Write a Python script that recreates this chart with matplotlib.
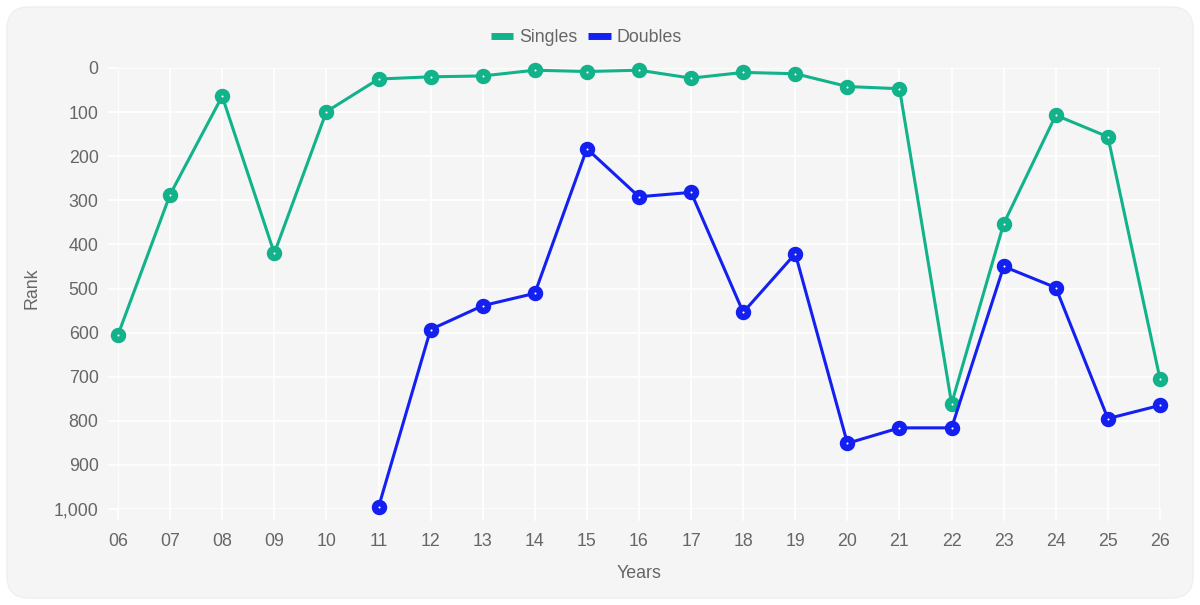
import numpy as np
import matplotlib
matplotlib.use("Agg")
from matplotlib import pyplot as plt
from matplotlib.patches import FancyBboxPatch
from matplotlib.lines import Line2D
from matplotlib.ticker import FuncFormatter

years = ['06', '07', '08', '09', '10', '11', '12', '13', '14', '15', '16',
         '17', '18', '19', '20', '21', '22', '23', '24', '25', '26']
singles = [605, 287, 64, 420, 99, 25, 20, 18, 5, 8, 5,
           23, 10, 13, 42, 47, 761, 353, 107, 156, 705]
doubles = [np.nan, np.nan, np.nan, np.nan, np.nan, 996, 593, 539, 511, 183, 292,
           282, 554, 421, 851, 816, 816, 450, 498, 795, 765]

GREEN = '#12b28b'
BLUE = '#1420f0'
GREY = '#666666'

plt.rcParams['font.family'] = ['Liberation Sans', 'DejaVu Sans']

W, H = 1200, 605
fig = plt.figure(figsize=(W / 100, H / 100), dpi=100)
fig.patch.set_facecolor('white')

# rounded grey card behind the chart (pixel coords)
card = FancyBboxPatch((7, 7), W - 14, H - 14,
                      boxstyle='round,pad=0,rounding_size=22',
                      transform=None, facecolor='#f5f5f5', edgecolor='#efefef',
                      linewidth=1, zorder=-10)
fig.patches.append(card)

left, right, top, bottom = 118, 1160, 68, 509
ax = fig.add_axes([left / W, 1 - bottom / H, (right - left) / W, (bottom - top) / H])
ax.set_facecolor('none')

x = np.arange(len(years))
for vals, col, lab in [(singles, GREEN, 'Singles'), (doubles, BLUE, 'Doubles')]:
    ax.plot(x, vals, color=col, lw=2.2, marker='o', ms=6.4,
            mfc='white', mec=col, mew=4.7, label=lab, clip_on=False, zorder=3)

ax.set_xlim(0, len(years) - 1)
ax.set_ylim(1000, 0)
ax.set_xticks(x)
ax.set_xticklabels(years)
ax.set_yticks(np.arange(0, 1001, 100))
ax.yaxis.set_major_formatter(FuncFormatter(lambda v, p: f'{int(v):,}'))

ax.grid(True, color='white', lw=1.2)
ax.set_axisbelow(True)
for s in ax.spines.values():
    s.set_visible(False)
ax.tick_params(axis='y', length=7.5, width=1.2, color='white', pad=6.5,
               labelsize=12.8, labelcolor=GREY)
ax.tick_params(axis='x', length=8.5, width=1.2, color='white', pad=8.5,
               labelsize=12.8, labelcolor=GREY)

ax.set_xlabel('Years', fontsize=12.8, color=GREY)
ax.xaxis.label.set_va('center')
ax.xaxis.set_label_coords(0.5, -(574 - bottom) / (bottom - top))
ax.set_ylabel('Rank', fontsize=12.8, color=GREY)
ax.yaxis.label.set_va('center')
ax.yaxis.set_label_coords(-(left - 32) / (right - left), 0.5)

handles = [Line2D([], [], color=GREEN, lw=5, solid_capstyle='butt'),
           Line2D([], [], color=BLUE, lw=5, solid_capstyle='butt')]
fig.legend(handles, ['Singles', 'Doubles'], loc='center', ncol=2,
           bbox_to_anchor=(586.5 / W, 1 - 38 / H), frameon=False,
           fontsize=12.8, labelcolor=GREY, handlelength=1.25,
           handletextpad=0.35, columnspacing=0.6)

fig.savefig('out.png', dpi=100)
